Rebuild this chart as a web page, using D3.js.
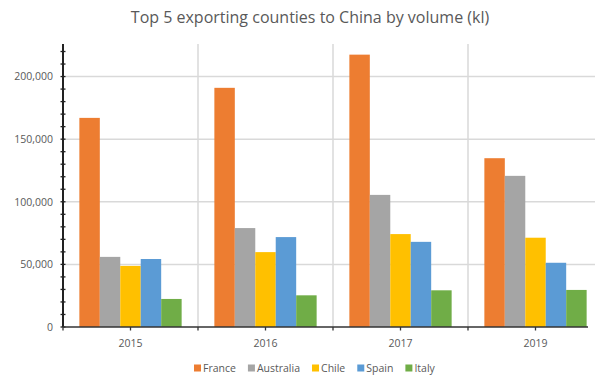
<!DOCTYPE html>
<html lang="en">
<head>
<meta charset="utf-8">
<title>Top 5 exporting counties to China by volume (kl)</title>
<script src="https://d3js.org/d3.v7.min.js"></script>
<style>
  body { margin: 0; background: #fff; }
  svg { display: block; font-family: "Open Sans", "Liberation Sans", sans-serif; }
</style>
</head>
<body>
<div id="chart"></div>
<script>
// data
var years = ["2015", "2016", "2017", "2019"];
var countries = ["France", "Australia", "Chile", "Spain", "Italy"];
var colors = ["#ED7D31", "#A5A5A5", "#FFC000", "#5B9BD5", "#70AD47"];
var france    = [167000, 191000, 217500, 134800];
var australia = [56000, 79000, 105500, 120700];
var chile     = [48800, 59800, 74200, 71300];
var spain     = [54300, 71800, 68000, 51300];
var italy     = [22400, 25300, 29300, 29600];
var yTicks = [0, 50000, 100000, 150000, 200000];

var series = [france, australia, chile, spain, italy];

var w = 595, h = 376;
var margin = {top: 44, right: -8, bottom: 49, left: 63};
var iw = w - margin.left - margin.right,
    ih = h - margin.top - margin.bottom;

var svg = d3.select("#chart").append("svg")
  .attr("width", w)
  .attr("height", h);

// title
svg.append("text")
  .attr("x", 310)
  .attr("y", 23)
  .attr("text-anchor", "middle")
  .attr("font-size", "16px")
  .attr("fill", "#595959")
  .text("Top 5 exporting counties to China by volume (kl)");

var g = svg.append("g")
  .attr("transform", "translate(" + margin.left + "," + margin.top + ")");

var x0 = d3.scaleBand()
  .domain(years)
  .range([0, iw])
  .paddingInner(0)
  .paddingOuter(0);

var x1 = d3.scaleBand()
  .domain(countries)
  .range([0, x0.bandwidth()])
  .paddingInner(0)
  .paddingOuter(0.8);

var y = d3.scaleLinear()
  .domain([0, 226000])
  .range([ih, 0]);

// horizontal gridlines
g.selectAll("line.hgrid")
  .data(yTicks.slice(1))
  .enter().append("line")
  .attr("class", "hgrid")
  .attr("x1", 0)
  .attr("x2", iw)
  .attr("y1", function(d) { return y(d); })
  .attr("y2", function(d) { return y(d); })
  .attr("stroke", "#d9d9d9")
  .attr("stroke-width", 1.5);

// vertical gridlines between years
g.selectAll("line.vgrid")
  .data(years.slice(1))
  .enter().append("line")
  .attr("class", "vgrid")
  .attr("x1", function(d) { return x0(d); })
  .attr("x2", function(d) { return x0(d); })
  .attr("y1", 0)
  .attr("y2", ih)
  .attr("stroke", "#d9d9d9")
  .attr("stroke-width", 1.5);

// bars
var groups = g.selectAll("g.year")
  .data(years)
  .enter().append("g")
  .attr("class", "year")
  .attr("transform", function(d) { return "translate(" + x0(d) + ",0)"; });

groups.selectAll("rect")
  .data(function(d, i) {
    return countries.map(function(c, k) { return {country: c, value: series[k][i], color: colors[k]}; });
  })
  .enter().append("rect")
  .attr("x", function(d) { return x1(d.country); })
  .attr("y", function(d) { return y(d.value); })
  .attr("width", x1.bandwidth())
  .attr("height", function(d) { return ih - y(d.value); })
  .attr("fill", function(d) { return d.color; });

// y axis
var yAxis = g.append("g")
  .call(d3.axisLeft(y).tickValues(yTicks).tickSize(0).tickPadding(10)
    .tickFormat(d3.format(",")));
yAxis.select(".domain").remove();
yAxis.selectAll("text")
  .attr("fill", "#595959")
  .attr("font-size", "10.5px")
  .attr("font-family", "\"Open Sans\", sans-serif");

// minor ticks every 10,000
g.selectAll("line.ytick")
  .data(d3.range(0, 220001, 10000))
  .enter().append("line")
  .attr("class", "ytick")
  .attr("x1", -2.5)
  .attr("x2", 2.5)
  .attr("y1", function(d) { return y(d); })
  .attr("y2", function(d) { return y(d); })
  .attr("stroke", "#222")
  .attr("stroke-width", 1.3);

g.append("line")
  .attr("x1", 0).attr("x2", 0)
  .attr("y1", 0).attr("y2", ih)
  .attr("stroke", "#222")
  .attr("stroke-width", 2);

// x axis
g.append("line")
  .attr("x1", 0).attr("x2", iw - 15)
  .attr("y1", ih).attr("y2", ih)
  .attr("stroke", "#333")
  .attr("stroke-width", 1.5);

var xTickPos = years.map(function(d) { return x0(d); })
  .concat(years.map(function(d) { return x0(d) + x0.bandwidth() / 2; }));

g.selectAll("line.xtick")
  .data(xTickPos)
  .enter().append("line")
  .attr("class", "xtick")
  .attr("x1", function(d) { return d; })
  .attr("x2", function(d) { return d; })
  .attr("y1", ih)
  .attr("y2", ih + 3.5)
  .attr("stroke", "#333")
  .attr("stroke-width", 1.3);

g.selectAll("text.xlabel")
  .data(years)
  .enter().append("text")
  .attr("class", "xlabel")
  .attr("x", function(d) { return x0(d) + x0.bandwidth() / 2; })
  .attr("y", ih + 20)
  .attr("text-anchor", "middle")
  .attr("font-size", "10.5px")
  .attr("fill", "#595959")
  .text(function(d) { return d; });

// legend
var legend = svg.append("g").attr("transform", "translate(194,368)");
var lx = 0;
countries.forEach(function(c, k) {
  var item = legend.append("g").attr("transform", "translate(" + lx + ",0)");
  item.append("rect")
    .attr("x", 0).attr("y", -3.5)
    .attr("width", 7).attr("height", 7)
    .attr("fill", colors[k]);
  var t = item.append("text")
    .attr("x", 9)
    .attr("y", 3.5)
    .attr("font-size", "10.5px")
    .attr("fill", "#595959")
    .text(c);
  lx += 9 + t.node().getComputedTextLength() + 12;
});
</script>
</body>
</html>
